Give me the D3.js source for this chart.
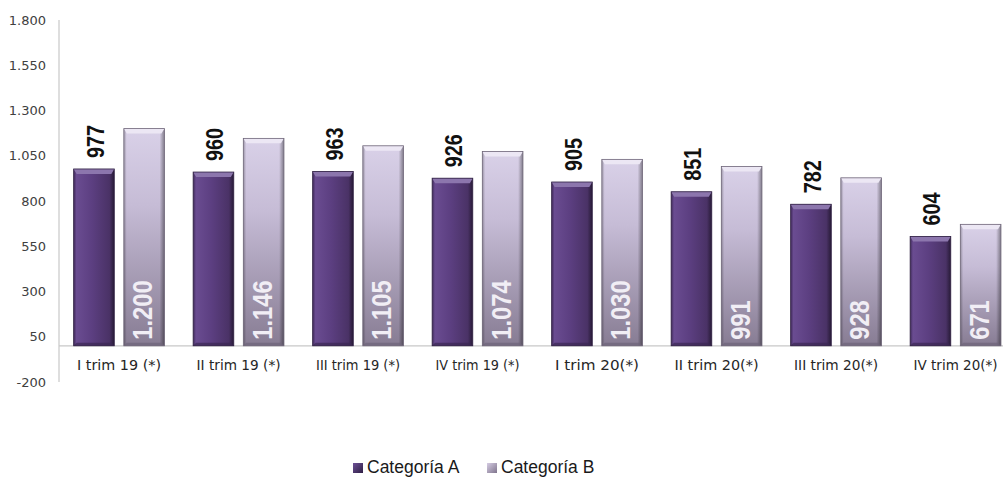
<!DOCTYPE html>
<html><head><meta charset="utf-8">
<script src="https://cdn.jsdelivr.net/npm/d3@7"></script>
<style>body{margin:0;background:#fff}svg{display:block}</style>
</head><body>
<svg id="c" width="1003" height="477"></svg>
<script>
const categories = ["I trim 19 (*)","II trim 19 (*)","III trim 19 (*)","IV trim 19 (*)","I trim 20(*)","II trim 20(*)","III trim 20(*)","IV trim 20(*)"];
const seriesA = [977,960,963,926,905,851,782,604];
const seriesB = [1200,1146,1105,1074,1030,991,928,671];
const seriesNames = ["Categoría A","Categoría B"];
const yTicks = [-200,50,300,550,800,1050,1300,1550,1800];

const svg = d3.select("#c");
const fmt = v => d3.format(",")(v).replace(/,/g,".").replace("\u2212","-");
const x0 = d3.scaleBand().domain(categories).range([59.3,1015.3]).paddingInner(0.24).paddingOuter(0.12);
const x1 = d3.scaleBand().domain([0,1]).range([0,x0.bandwidth()]).paddingInner(0.19);
const y = d3.scaleLinear().domain([-200,1800]).range([382,20]);

const defs = svg.append("defs");
const gA = defs.append("linearGradient").attr("id","gA").attr("x1",0).attr("x2",1).attr("y1",0).attr("y2",0);
[[0,"#3f2a5a"],[0.07,"#6a4c91"],[0.45,"#5c3f81"],[0.88,"#4a3266"],[1,"#271a36"]].forEach(s=>gA.append("stop").attr("offset",s[0]).attr("stop-color",s[1]));
const gB = defs.append("linearGradient").attr("id","gB").attr("x1",0).attr("x2",0).attr("y1",0).attr("y2",1);
[[0,"#d9d1e8"],[0.35,"#c6bcd6"],[1,"#877c93"]].forEach(s=>gB.append("stop").attr("offset",s[0]).attr("stop-color",s[1]));
const gE = defs.append("linearGradient").attr("id","gE").attr("x1",0).attr("x2",1).attr("y1",0).attr("y2",0);
[[0,"#000",0.28],[0.07,"#000",0],[0.88,"#000",0],[1,"#000",0.4]].forEach(s=>gE.append("stop").attr("offset",s[0]).attr("stop-color",s[1]).attr("stop-opacity",s[2]));
const gLA = defs.append("linearGradient").attr("id","gLA").attr("x1",0).attr("x2",1).attr("y1",0).attr("y2",1);
[[0,"#6d5196"],[1,"#2f1f45"]].forEach(s=>gLA.append("stop").attr("offset",s[0]).attr("stop-color",s[1]));
const gLB = defs.append("linearGradient").attr("id","gLB").attr("x1",0).attr("x2",1).attr("y1",0).attr("y2",1);
[[0,"#d6cde4"],[1,"#7f748c"]].forEach(s=>gLB.append("stop").attr("offset",s[0]).attr("stop-color",s[1]));

// axes lines
svg.append("line").attr("x1",59).attr("x2",59).attr("y1",y(1800)).attr("y2",y(-200)).attr("stroke","#c8c8c8").attr("stroke-width",1.2);
svg.append("line").attr("x1",59).attr("x2",1003).attr("y1",y(0)).attr("y2",y(0)).attr("stroke","#c8c8c8").attr("stroke-width",1.2);

// y tick labels
svg.append("g").selectAll("text").data(yTicks).join("text")
  .attr("x",46).attr("y",d=>y(d)).attr("dy","0.36em").attr("text-anchor","end")
  .attr("font-family","DejaVu Sans").attr("font-size",13).attr("fill","#404040").text(fmt);

// category labels
svg.append("g").selectAll("text").data(categories).join("text")
  .attr("x",d=>x0(d)+x0.bandwidth()/2).attr("y",370).attr("text-anchor","middle")
  .attr("font-family","DejaVu Sans").attr("font-size",13.5).attr("fill","#262626")
  .attr("textLength",84).attr("lengthAdjust","spacingAndGlyphs").text(d=>d);

const series = [seriesA, seriesB];
categories.forEach((c,i)=>{
  [0,1].forEach(s=>{
    const v = series[s][i];
    const bx = x0(c)+x1(s), bw = x1.bandwidth();
    const top = y(v), bot = y(0);
    const g = svg.append("g");
    g.append("rect").attr("x",bx).attr("y",top).attr("width",bw).attr("height",bot-top).attr("fill",s===0?"url(#gA)":"url(#gB)");
    if(s===1) g.append("rect").attr("x",bx).attr("y",top).attr("width",bw).attr("height",bot-top).attr("fill","url(#gE)");
    g.append("path").attr("d",`M${bx},${top}L${bx+bw},${top}L${bx+bw-3},${top+5}L${bx+3},${top+5}Z`)
      .attr("fill",s===0?"#8c76ad":"#ece7f4");
    g.append("path").attr("d",`M${bx},${bot}L${bx+bw},${bot}L${bx+bw-3},${bot-3}L${bx+3},${bot-3}Z`)
      .attr("fill",s===0?"#3a2752":"#6e6479").attr("opacity",0.7);
    g.append("rect").attr("x",bx).attr("y",top).attr("width",bw).attr("height",bot-top).attr("fill","none").attr("stroke",s===0?"#2f2042":"#6f6679").attr("stroke-width",0.8);
  });
  const cxA = x0(c)+x1(0)+x1.bandwidth()/2;
  const cxB = x0(c)+x1(1)+x1.bandwidth()/2;
  svg.append("text").attr("transform",`translate(${cxA+10},${y(seriesA[i])-11}) rotate(-90) scale(0.86,1)`)
    .attr("font-family","Liberation Sans, Arial").attr("font-weight","bold").attr("font-size",23).attr("fill","#111")
    .text(fmt(seriesA[i]));
  svg.append("text").attr("transform",`translate(${cxB+8},${y(0)-6}) rotate(-90) scale(0.88,1)`)
    .attr("font-family","Liberation Sans, Arial").attr("font-weight","bold").attr("font-size",27).attr("fill","#f1eef5")
    .text(fmt(seriesB[i]));
});

// legend
const leg = svg.append("g");
const legX = [353,487];
const legFill = ["url(#gLA)","url(#gLB)"];
seriesNames.forEach((n,i)=>{
  leg.append("rect").attr("x",legX[i]).attr("y",463).attr("width",10).attr("height",10).attr("fill",legFill[i]);
  leg.append("text").attr("x",legX[i]+14).attr("y",473).attr("font-family","Liberation Sans, Arial").attr("font-size",17.5).attr("fill","#1a1a1a").text(n);
});
</script>
</body></html>
